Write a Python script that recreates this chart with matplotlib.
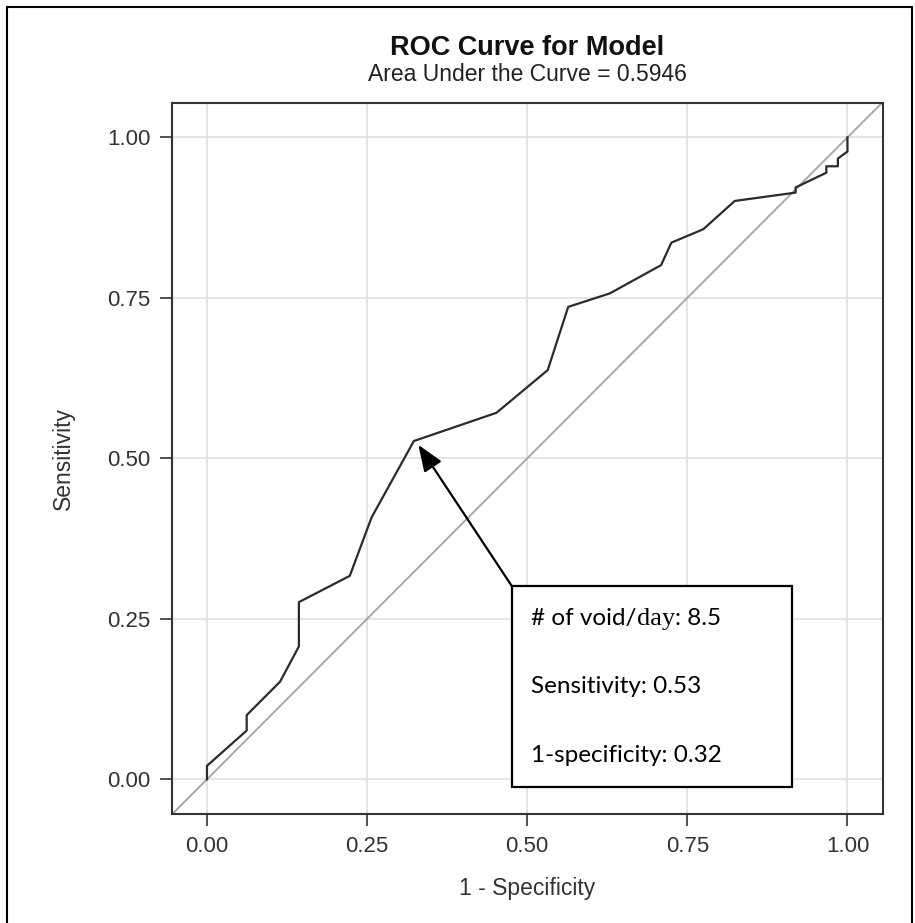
import matplotlib
matplotlib.use("Agg")
import matplotlib.pyplot as plt
from matplotlib.patches import Rectangle

# ---------------------------------------------------------------------------
# ROC curve values
# ---------------------------------------------------------------------------
fpr = [0.0, 0.0, 0.062, 0.062, 0.114, 0.1435, 0.1435, 0.223, 0.257, 0.323,
       0.452, 0.532, 0.564, 0.629, 0.709, 0.725, 0.775, 0.824, 0.919, 0.919,
       0.967, 0.967, 0.985, 0.985, 1.0, 1.0]
tpr = [0.0, 0.021, 0.076, 0.100, 0.152, 0.207, 0.276, 0.317, 0.408, 0.527,
       0.571, 0.6375, 0.736, 0.757, 0.801, 0.836, 0.857, 0.901, 0.914, 0.922,
       0.945, 0.955, 0.955, 0.967, 0.978, 1.0]

ticks = [0.0, 0.25, 0.5, 0.75, 1.0]
tick_labels = ["0.00", "0.25", "0.50", "0.75", "1.00"]

auc = 0.5946
cut_point = (0.330, 0.521)       # where the arrow points
cut_voids = 8.5
cut_sens = 0.53
cut_fpr = 0.32

title = "ROC Curve for Model"
subtitle = f"Area Under the Curve = {auc:.4f}"

plt.rcParams["font.family"] = ["Liberation Sans", "DejaVu Sans"]

fig = plt.figure(figsize=(9.15, 9.23), dpi=100)
ax = fig.add_axes([0.1877, 0.1181, 0.777, 0.7706])

# grid + reference diagonal
for t in ticks:
    ax.axvline(t, color="#e2e2e2", lw=1.3, zorder=0)
    ax.axhline(t, color="#e2e2e2", lw=1.3, zorder=0)
ax.axline((0, 0), (1, 1), color="#a8a8a8", lw=1.4, zorder=1)

ax.plot(fpr, tpr, color="#2b2b2b", lw=1.6, zorder=3)

ax.set_xlim(-0.055, 1.055)
ax.set_ylim(-0.054, 1.054)
ax.set_xticks(ticks)
ax.set_xticklabels(tick_labels)
ax.set_yticks(ticks)
ax.set_yticklabels(tick_labels)
ax.tick_params(length=8.5, width=1.2, pad=7, labelsize=16,
               color="#333333", labelcolor="#333333")
for s in ax.spines.values():
    s.set_linewidth(1.5)
    s.set_color("#333333")

ax.set_xlabel("1 - Specificity", fontsize=16.5, color="#333333", labelpad=15)
ax.set_ylabel("Sensitivity", fontsize=16.5, color="#333333", labelpad=23)

fig.text(0.5765, 0.948, title, ha="center", va="center",
         fontsize=19.5, fontweight="bold", color="#111111")
fig.text(0.5765, 0.919, subtitle, ha="center", va="center",
         fontsize=16.5, color="#222222")

# callout box with arrow
ax.add_patch(Rectangle((0.476, -0.012), 0.438, 0.313, facecolor="white",
                       edgecolor="black", lw=1.6, zorder=5))
ax.annotate("", xy=cut_point, xytext=(0.476, 0.301),
            arrowprops=dict(arrowstyle="-|>,head_length=0.9,head_width=0.35",
                            mutation_scale=18, lw=1.6, color="black",
                            shrinkA=0, shrinkB=0), zorder=6)

box_font = ["Lato", "DejaVu Sans"]
t1 = ax.text(0.5066, 0.240, "# of void/", fontsize=17.5, family=box_font,
             va="baseline", zorder=6)
t2 = ax.annotate("day", xy=(1, 0.240), xycoords=(t1, "data"), fontsize=19,
                 family=["Liberation Serif"], va="baseline", zorder=6)
ax.annotate(f": {cut_voids}", xy=(1, 0.240), xycoords=(t2, "data"),
            fontsize=17.5, family=box_font, va="baseline", zorder=6)
ax.text(0.5066, 0.134, f"Sensitivity: {cut_sens}", fontsize=17.5,
        family=box_font, va="baseline", zorder=6)
ax.text(0.5066, 0.0274, f"1-specificity: {cut_fpr}", fontsize=17.5,
        family=box_font, va="baseline", zorder=6)

# outer frame of the exported graphic
fig.patches.append(Rectangle((7 / 915, -0.05), 905 / 915, 1 - 7 / 923 + 0.05,
                             transform=fig.transFigure, fill=False,
                             edgecolor="black", lw=1.5))

plt.savefig("out.png", dpi=100)
